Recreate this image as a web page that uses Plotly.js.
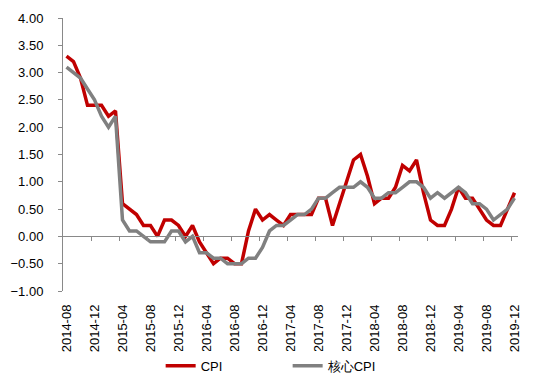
<!DOCTYPE html>
<html>
<head>
<meta charset="utf-8">
<script src="https://cdn.plot.ly/plotly-3.0.1.min.js"></script>
<style>html,body{margin:0;padding:0;background:#fff;}#chart{width:550px;height:383px;}</style>
</head>
<body>
<div id="chart"></div>
<script>
const months = [
  "2014-08","2014-09","2014-10","2014-11","2014-12",
  "2015-01","2015-02","2015-03","2015-04","2015-05","2015-06","2015-07","2015-08","2015-09","2015-10","2015-11","2015-12",
  "2016-01","2016-02","2016-03","2016-04","2016-05","2016-06","2016-07","2016-08","2016-09","2016-10","2016-11","2016-12",
  "2017-01","2017-02","2017-03","2017-04","2017-05","2017-06","2017-07","2017-08","2017-09","2017-10","2017-11","2017-12",
  "2018-01","2018-02","2018-03","2018-04","2018-05","2018-06","2018-07","2018-08","2018-09","2018-10","2018-11","2018-12",
  "2019-01","2019-02","2019-03","2019-04","2019-05","2019-06","2019-07","2019-08","2019-09","2019-10","2019-11","2019-12"
];
const cpi = [
  3.3,3.2,2.9,2.4,2.4,
  2.4,2.2,2.3,0.6,0.5,0.4,0.2,0.2,0.0,0.3,0.3,0.2,
  0.0,0.2,-0.1,-0.3,-0.5,-0.4,-0.4,-0.5,-0.5,0.1,0.5,0.3,
  0.4,0.3,0.2,0.4,0.4,0.4,0.4,0.7,0.7,0.2,0.6,1.0,
  1.4,1.5,1.1,0.6,0.7,0.7,0.9,1.3,1.2,1.4,0.8,0.3,
  0.2,0.2,0.5,0.9,0.7,0.7,0.5,0.3,0.2,0.2,0.5,0.8
];
const coreCpi = [
  3.1,3.0,2.9,2.7,2.5,
  2.2,2.0,2.2,0.3,0.1,0.1,0.0,-0.1,-0.1,-0.1,0.1,0.1,
  -0.1,0.0,-0.3,-0.3,-0.4,-0.4,-0.5,-0.5,-0.5,-0.4,-0.4,-0.2,
  0.1,0.2,0.2,0.3,0.4,0.4,0.5,0.7,0.7,0.8,0.9,0.9,
  0.9,1.0,0.9,0.7,0.7,0.8,0.8,0.9,1.0,1.0,0.9,0.7,
  0.8,0.7,0.8,0.9,0.8,0.6,0.6,0.5,0.3,0.4,0.5,0.7
];
const seriesNames = ["CPI", "核心CPI"];
const yTicks = [-1, -0.5, 0, 0.5, 1, 1.5, 2, 2.5, 3, 3.5, 4];

const FONT = "Liberation Sans, Arial, sans-serif";
const step = 4;
const boundaryTicks = [];
for (let i = step - 0.5; i < months.length; i += step) boundaryTicks.push(i);

const traces = [
  {x: months, y: cpi, name: seriesNames[0], type: "scatter", mode: "lines",
   line: {color: "#C00000", width: 3.5}, xaxis: "x", yaxis: "y"},
  {x: months, y: coreCpi, name: seriesNames[1], type: "scatter", mode: "lines",
   line: {color: "#808080", width: 3.5}, xaxis: "x", yaxis: "y"},
  {x: [], y: [], xaxis: "x2", yaxis: "y", showlegend: false, hoverinfo: "skip", mode: "lines"}
];

const layout = {
  width: 550, height: 383,
  margin: {l: 63, r: 32, t: 18, b: 92},
  paper_bgcolor: "#fff", plot_bgcolor: "#fff",
  font: {family: FONT, size: 13, color: "#000"},
  showlegend: true,
  legend: {orientation: "h", xref: "container", yref: "container", x: 0.523, xanchor: "center",
           y: 0.045, yanchor: "middle", font: {family: FONT, size: 13, color: "#000"},
           itemwidth: 30, tracegroupgap: 0, entrywidth: 82},
  xaxis: {type: "category", categoryorder: "array", categoryarray: months,
          range: [-0.5, months.length - 0.5], tickmode: "array",
          tickvals: months.filter((m, i) => i % step === 0),
          tickangle: -90, ticks: "", showline: false, showgrid: false, zeroline: false,
          ticklabelstandoff: 10, tickfont: {family: FONT, size: 13, color: "#000"},
          fixedrange: true},
  xaxis2: {type: "linear", overlaying: "x", anchor: "free", position: 0.2,
           range: [-0.5, months.length - 0.5], tickmode: "array", tickvals: boundaryTicks,
           showticklabels: false, ticks: "outside", ticklen: 4, tickcolor: "#898989", tickwidth: 1,
           showline: true, linecolor: "#898989", linewidth: 1, showgrid: false, zeroline: false},
  yaxis: {range: [-1, 4], tickmode: "array", tickvals: yTicks, tickformat: ".2f",
          ticks: "outside", ticklen: 4, tickcolor: "#898989", tickwidth: 1,
          showline: true, linecolor: "#898989", linewidth: 1, showgrid: false, zeroline: false,
          ticklabelstandoff: 12, tickfont: {family: FONT, size: 13, color: "#000"}}
};

Plotly.newPlot("chart", traces, layout, {displayModeBar: false, staticPlot: true});
</script>
</body>
</html>
